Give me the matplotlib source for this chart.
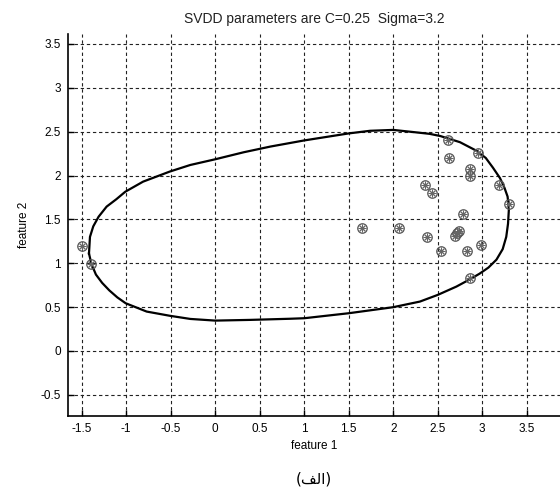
import matplotlib
matplotlib.use("Agg")
import matplotlib.pyplot as plt

plt.rcParams['font.family'] = ['Liberation Sans', 'DejaVu Sans']

# training samples
x_pts = [2.62, 2.63, 2.95, 2.86, 2.86, 2.36, 2.44, 3.19, 3.30, 2.78, 2.06,
         2.38, 2.74, 2.72, 2.69, 2.54, 2.83, 2.99, 2.86, 1.65, -1.50, -1.39]
y_pts = [2.40, 2.20, 2.26, 2.07, 1.99, 1.89, 1.80, 1.89, 1.68, 1.56, 1.40,
         1.30, 1.37, 1.34, 1.31, 1.14, 1.14, 1.21, 0.83, 1.40, 1.20, 0.99]

# SVDD boundary
bx = [-1.418, -1.407, -1.37, -1.31, -1.22, -1.11, -1.01, -0.81, -0.51, -0.28,
      0.0, 0.32, 0.62, 1.0, 1.5, 1.74, 2.0, 2.23, 2.41, 2.53, 2.75, 2.94,
      3.04, 3.12, 3.20, 3.25, 3.285, 3.30, 3.29, 3.27, 3.23, 3.16, 3.07,
      2.97, 2.86, 2.71, 2.5, 2.30, 2.0, 1.5, 1.0, 0.84, 0.39, 0.0, -0.28,
      -0.51, -0.77, -1.006, -1.10, -1.19, -1.27, -1.34, -1.39, -1.418]
by = [1.11, 1.30, 1.42, 1.53, 1.645, 1.73, 1.815, 1.93, 2.045, 2.12,
      2.185, 2.265, 2.33, 2.40, 2.48, 2.51, 2.52, 2.495, 2.475, 2.45, 2.38, 2.28,
      2.20, 2.09, 1.97, 1.86, 1.76, 1.62, 1.45, 1.30, 1.16, 1.04, 0.95,
      0.88, 0.815, 0.733, 0.638, 0.562, 0.498, 0.429, 0.372, 0.366, 0.353, 0.345, 0.364,
      0.40, 0.448, 0.543, 0.61, 0.69, 0.775, 0.87, 0.99, 1.11]

xticks = [-1.5, -1, -0.5, 0, 0.5, 1, 1.5, 2, 2.5, 3, 3.5]
yticks = [-0.5, 0, 0.5, 1, 1.5, 2, 2.5, 3, 3.5]

fig = plt.figure(figsize=(5.6, 4.97), dpi=100)
ax = fig.add_axes([0.1214, 0.163, 0.8786, 0.7686])

ax.plot(bx, by, color='k', lw=1.6, solid_joinstyle='round')
ax.plot(x_pts, y_pts, ls='none', marker='o', ms=6.8, mfc='none', mec='#555555', mew=0.9)
ax.plot(x_pts, y_pts, ls='none', marker=(8, 2, 0), ms=5.5, mec='#666666', mew=0.7)

ax.set_xlim(-1.654, 3.874)
ax.set_ylim(-0.743, 3.614)
ax.set_xticks(xticks)
ax.set_yticks(yticks)
ax.set_xticklabels([f'{t:g}' for t in xticks])
ax.set_yticklabels([f'{t:g}' for t in yticks])

ax.grid(True, color='#222222', lw=0.8, linestyle=(0, (3, 2.5)))
ax.set_axisbelow(True)
ax.spines['top'].set_visible(False)
ax.spines['right'].set_visible(False)
ax.spines['left'].set_linewidth(1.2)
ax.spines['bottom'].set_linewidth(1.2)
ax.tick_params(direction='in', length=4, width=1, labelsize=8.5, colors='k', pad=5)

ax.set_title('SVDD parameters are C=0.25  Sigma=3.2', fontsize=10, color='#222222', pad=8)
ax.set_xlabel('feature 1', fontsize=8.5, labelpad=4)
ax.set_ylabel('feature 2', fontsize=8.5, labelpad=8)

# Arabic caption "(الف)" written in visual order with presentation forms
fig.text(0.56, 0.036, '(\ufed2\ufedf\ufe8d)', fontsize=11, family='DejaVu Sans',
         ha='center', va='center')

fig.savefig('out.png', dpi=100)
